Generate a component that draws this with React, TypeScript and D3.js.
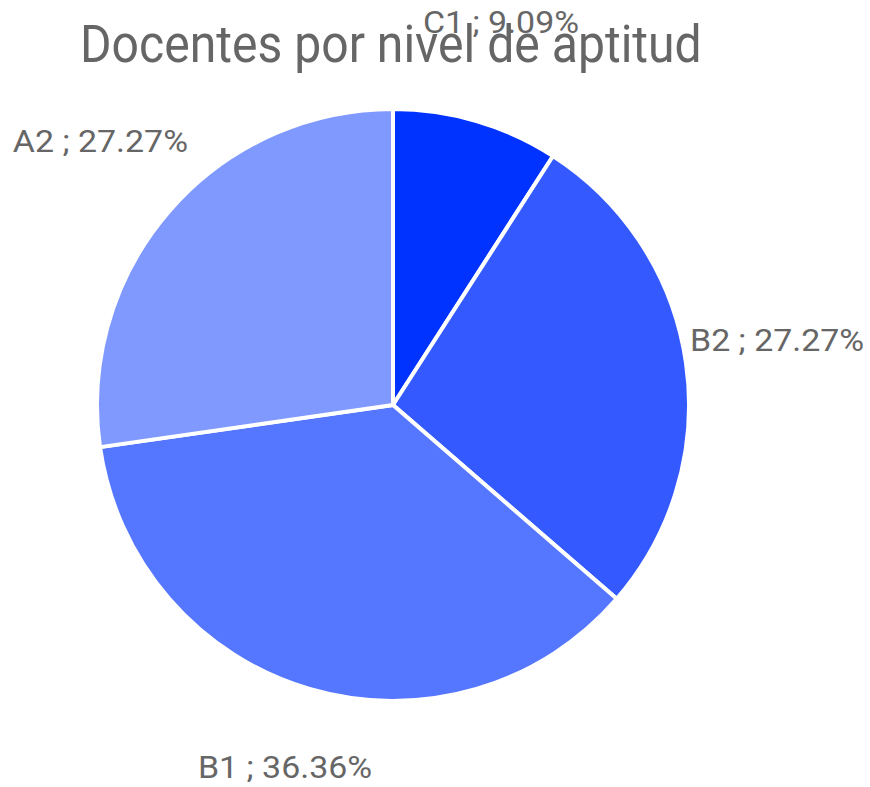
import React from "react";
import * as d3 from "d3";

const categories = ["C1", "B2", "B1", "A2"];
const counts = [1, 3, 4, 3];
const colors = ["#0033FF", "#3359FF", "#5577FF", "#7F99FF"];
const titleText = "Docentes por nivel de aptitud";

// label placement (relative to pie center), anchor
const labelLayout = [
  { dx: 108, dy: -372, anchor: "middle" },
  { dx: 297, dy: -54, anchor: "start" },
  { dx: -108, dy: 373, anchor: "middle" },
  { dx: -205, dy: -253, anchor: "end" },
];

export default function App() {
  const W = 870, H = 787;
  const cx = 393, cy = 405, r = 296;
  const total = d3.sum(counts);
  const pie = d3.pie<number>().sort(null).value((d) => d)(counts);
  const arc = d3.arc<d3.PieArcDatum<number>>().innerRadius(0).outerRadius(r);
  return (
    <svg width={W} height={H} style={{ position: "absolute", left: 0, top: 0, background: "#fff" }}>
      <g transform={`translate(80,62) scale(0.925,1)`}>
        <text x={0} y={0} fontFamily="Roboto" fontSize={52} fill="#666">{titleText}</text>
      </g>
      <g transform={`translate(${cx},${cy})`}>
        {pie.map((p, i) => (
          <path key={i} d={arc(p) || ""} fill={colors[i]} stroke="#fff" strokeWidth={4} strokeLinejoin="round" />
        ))}
      </g>
      {pie.map((p, i) => (
        <g key={i} transform={`translate(${cx + labelLayout[i].dx},${cy + labelLayout[i].dy}) scale(1.06,1)`}>
          <text x={0} y={0} textAnchor={labelLayout[i].anchor as any}
            fontFamily="Roboto" fontSize={32} fill="#666">
            {`${categories[i]} ; ${((counts[i] / total) * 100).toFixed(2)}%`}
          </text>
        </g>
      ))}
    </svg>
  );
}
